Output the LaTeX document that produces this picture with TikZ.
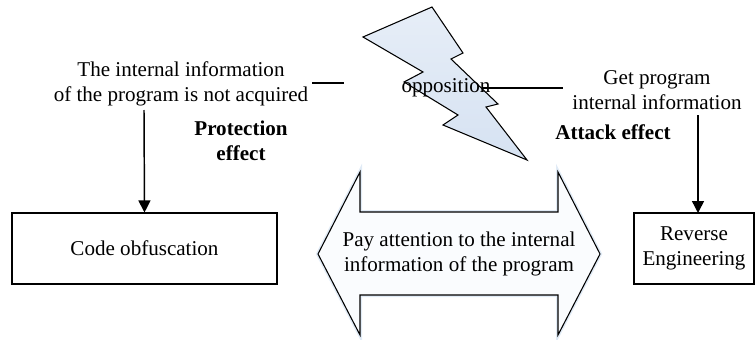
\documentclass[tikz,border=0pt]{standalone}
\usepackage{fontspec}
\setmainfont{Liberation Serif}
\usetikzlibrary{arrows.meta}
\definecolor{boltblue}{RGB}{214,226,242}
\definecolor{arrowfill}{RGB}{250,252,254}
\definecolor{glow}{RGB}{205,222,240}
\tikzset{
  txt/.style={align=center,font=\fontsize{15.8}{18.8}\selectfont,inner sep=0pt},
  btxt/.style={txt,font=\fontsize{15.8}{18.8}\selectfont\bfseries},
  boxn/.style={draw,line width=0.8pt,inner sep=0pt},
  arr/.style={line width=1.1pt,-{Triangle[width=9pt,length=9pt]}},
  seg/.style={line width=1.1pt}
}
\begin{document}
\begin{tikzpicture}[x=0.75pt,y=-0.75pt]
\useasboundingbox (0,0) rectangle (755,339);
% double arrow
\path[draw=glow,line width=3pt,opacity=0.6] (318,254) -- (360,172) -- (360,212) -- (558,212) -- (558,172) -- (600,254) -- (558,335) -- (558,295) -- (360,295) -- (360,335) -- cycle;
\path[draw,fill=arrowfill,line width=0.8pt] (318,254) -- (360,172) -- (360,212) -- (558,212) -- (558,172) -- (600,254) -- (558,335) -- (558,295) -- (360,295) -- (360,335) -- cycle;
\node[txt] (pay) at (459,254) {Pay attention to the internal\\information of the program};
% lightning bolt
\path[draw,line width=0.8pt,top color=white!40!boltblue,bottom color=boltblue] (363,37) -- (432,7) -- (463,53) -- (451,59) -- (498,104) -- (486,107) -- (527,160) -- (443,125) -- (458,115) -- (404,82) -- (423,72) -- cycle;
\node[txt] (opp) at (446,88) {opposition};
\coordinate (oppA) at (482,88);
\coordinate (oppB) at (563,88);
\draw[seg] (oppA) -- (oppB);
% left side
\node[txt] (lefttxt) at (181,84) {The internal information\\of the program is not acquired};
\node[btxt] (prot) at (241,141) {Protection\\effect};
\coordinate (segA) at (312,83);
\coordinate (segB) at (344,83);
\draw[seg] (segA) -- (segB);
\node[boxn,minimum width=198.75pt,minimum height=53.25pt] (cobf) at (144.5,248.5) {};
\node[txt] (cobft) at (cobf.center) {Code obfuscation};
\coordinate (lstart) at (144,110);
\draw[arr] (lstart) -- (cobf.north);
% right side
\node[txt] (righttxt) at (657,90) {Get program\\internal information};
\node[btxt] (att) at (613,132) {Attack effect};
\node[boxn,minimum width=90pt,minimum height=53.25pt] (rev) at (694,248.5) {};
\node[txt] (revt) at (rev.center) {Reverse\\Engineering};
\coordinate (rstart) at (698,115);
\coordinate (rend) at (698,213);
\draw[arr] (rstart) -- (rend);
\end{tikzpicture}
\end{document}
